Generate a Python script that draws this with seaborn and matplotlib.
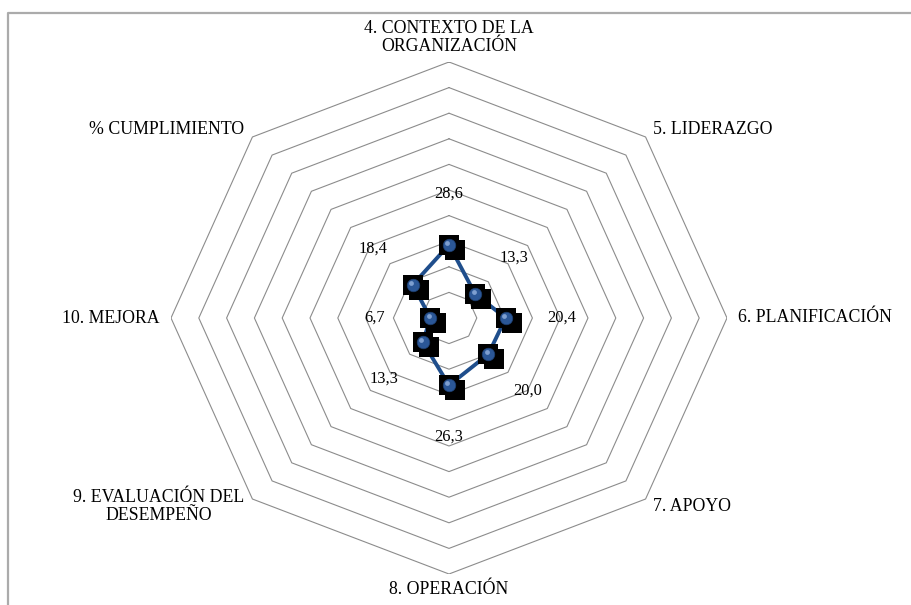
import numpy as np
import pandas as pd
import matplotlib
matplotlib.use("Agg")
import matplotlib.pyplot as plt
import matplotlib.transforms as mtransforms
from matplotlib.lines import Line2D
import seaborn as sns

# data
categories = ["4. CONTEXTO DE LA\nORGANIZACIÓN", "5. LIDERAZGO", "6. PLANIFICACIÓN",
              "7. APOYO", "8. OPERACIÓN", "9. EVALUACIÓN DEL\nDESEMPEÑO",
              "10. MEJORA", "% CUMPLIMIENTO"]
values = [28.6, 13.3, 20.4, 20.0, 26.3, 13.3, 6.7, 18.4]
value_labels = ["28,6", "13,3", "20,4", "20,0", "26,3", "13,3", "6,7", "18,4"]
grid_levels = [10, 20, 30, 40, 50, 60, 70, 80, 90, 100]

sns.set_theme(style="white")
plt.rcParams["font.family"] = ["Liberation Serif", "DejaVu Serif"]

n = len(categories)
angles = np.pi / 2 - np.arange(n) * 2 * np.pi / n  # clockwise from top
cos, sin = np.cos(angles), np.sin(angles)

fig = plt.figure(figsize=(9.12, 6.05), dpi=100)
ax = fig.add_axes([171 / 912, 31 / 605, 556 / 912, 512 / 605])
ax.set_xlim(-100, 100)
ax.set_ylim(-100, 100)
ax.axis("off")

# octagon gridlines
for lvl in grid_levels:
    ax.plot(np.append(lvl * cos, lvl * cos[0]), np.append(lvl * sin, lvl * sin[0]),
            color="#8C8C8C", lw=0.8, zorder=1)

# data polygon
df = pd.DataFrame({"x": np.array(values) * cos, "y": np.array(values) * sin})
df_closed = pd.concat([df, df.iloc[:1]], ignore_index=True)
sns.lineplot(data=df_closed, x="x", y="y", sort=False, estimator=None,
             color="#1F4E8C", lw=2.8, ax=ax, zorder=3)

# markers: black square "shadow" + blue sphere
shadow = mtransforms.offset_copy(ax.transData, fig=fig, x=6, y=-5, units="dots")
ax.scatter(df["x"], df["y"], marker="s", s=215, color="black", transform=shadow,
           zorder=4, linewidths=0)
ax.scatter(df["x"], df["y"], marker="s", s=215, color="black", zorder=4, linewidths=0)
ax.scatter(df["x"], df["y"], marker="o", s=82, color="#2B5797", zorder=5,
           edgecolors="#1C3D6E", linewidths=0.5)
hl = mtransforms.offset_copy(ax.transData, fig=fig, x=-1.5, y=2, units="dots")
ax.scatter(df["x"], df["y"], marker="o", s=12, color="#7E9FD0", zorder=6,
           linewidths=0, transform=hl)

# data labels
for v, lab, c, s in zip(values, value_labels, cos, sin):
    r = v + 20
    ax.text(r * c, r * s, lab, ha="center", va="center", fontsize=11.8,
            color="black", zorder=7)

# category labels
for cat, c, s in zip(categories, cos, sin):
    ha = "left" if c > 0.1 else ("right" if c < -0.1 else "center")
    va = "bottom" if s > 0.9 else ("top" if s < -0.9 else "center")
    r = 102.8 if abs(s) > 0.9 else 104
    ax.text(r * c, r * s, cat, ha=ha, va=va, fontsize=12.8, color="black",
            multialignment="center", linespacing=1.05, clip_on=False)

# chart area border (top and left visible)
x0 = 8.5 / 912
ytop = 1 - 13 / 605
fig.add_artist(Line2D([x0, x0, 1.0], [0.0, ytop, ytop], transform=fig.transFigure,
                      color="#ABABAB", lw=1.6))

fig.savefig("out.png", dpi=100)
